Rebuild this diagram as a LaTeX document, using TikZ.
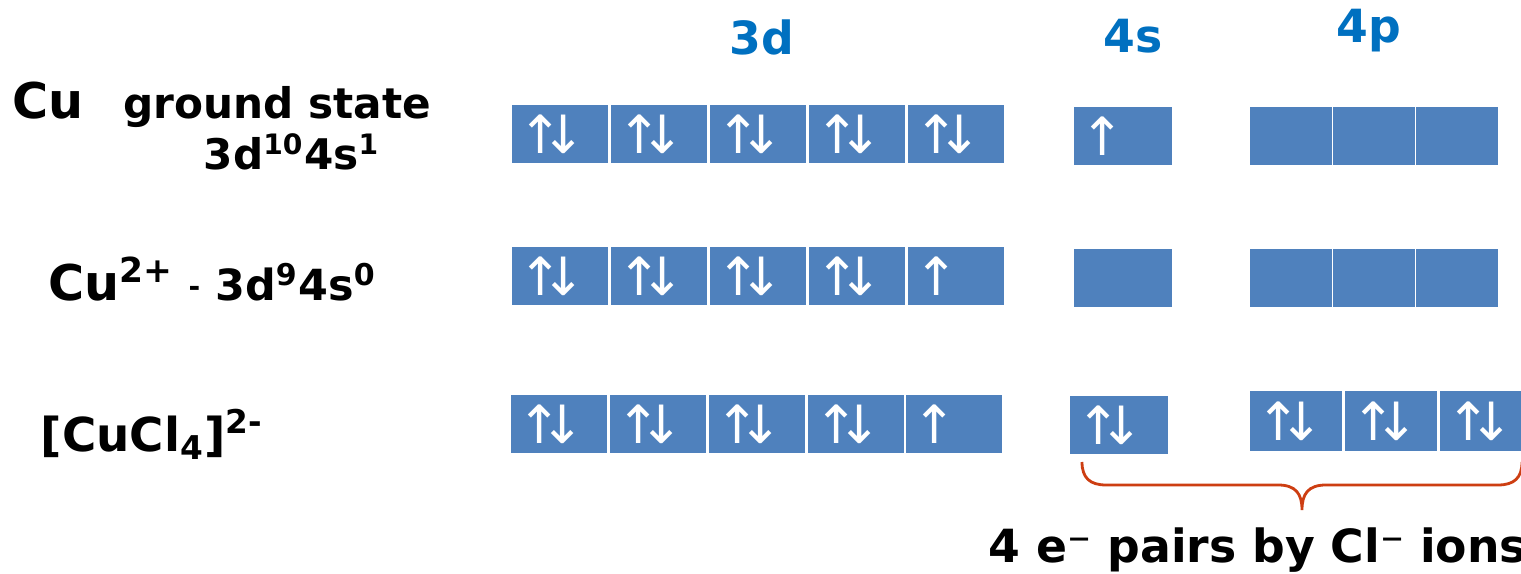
\documentclass[tikz,border=0pt]{standalone}
\usepackage{fontspec}
\setmainfont{DejaVu Sans}
\usepackage{xcolor}
\definecolor{orbblue}{RGB}{79,129,189}
\definecolor{headblue}{RGB}{0,112,192}
\definecolor{bracered}{RGB}{205,62,18}
\newcommand{\pairud}{↑\kern-0.42em↓}

\tikzset{
  orb/.style={fill=orbblue,draw=none,minimum width=0.96cm,minimum height=0.58cm,inner sep=0pt},
  spin/.style={text=white,font=\fontsize{15}{15}\selectfont,anchor=west,inner sep=0pt},
  head/.style={text=headblue,font=\bfseries\fontsize{13}{13}\selectfont,anchor=base,inner sep=0pt},
  lbl/.style={font=\bfseries\fontsize{14}{14}\selectfont,anchor=base west,inner sep=0pt}
}

\begin{document}
\begin{tikzpicture}[x=0.01cm,y=-0.01cm]
\useasboundingbox (0,0) rectangle (1521,574);
% headings
\node[head] (h3d) at (762,55) {3d};
\node[head] (h4s) at (1133,53) {4s};
\node[head] (h4p) at (1369,43) {4p};
% row labels
\node[lbl] (cu) at (12,119) {Cu};
\node[lbl,font=\bfseries\fontsize{12}{12}\selectfont] (gs) at (123,119) {ground state};
\node[lbl,font=\bfseries\fontsize{12}{12}\selectfont] (gcfg) at (203,170) {3d\textsuperscript{10}4s\textsuperscript{1}};
\node[lbl] (cuion) at (48,301) {Cu\textsuperscript{2+}\hspace{0.14cm}\raisebox{0.04cm}{\fontsize{8}{8}\selectfont -}\hspace{0.15cm}{\fontsize{12.2}{12}\selectfont 3d\textsuperscript{9}4s\textsuperscript{0}}};
\node[lbl,font=\bfseries\fontsize{13.3}{13}\selectfont] (cucl) at (40,452) {[CuCl\textsubscript{4}]\textsuperscript{2-}};
% ground state
\foreach \n/\x/\s in {1/560/\pairud,2/659/\pairud,3/758/\pairud,4/857/\pairud,5/956/\pairud}{
  \node[orb] (a\n) at (\x,134) {};
  \node[spin] at ([xshift=0.07cm]a\n.west) {\s};
}
\node[orb,minimum width=0.98cm] (as) at (1123,136) {};
\node[spin] at ([xshift=0.07cm]as.west) {↑};
\foreach \n/\x in {1/1291,2/1374,3/1457}
  \node[orb,minimum width=0.81cm] (ap\n) at (\x,136) {};
% Cu2+
\foreach \n/\x/\s in {1/560/\pairud,2/659/\pairud,3/758/\pairud,4/857/\pairud,5/956/↑}{
  \node[orb] (b\n) at (\x,276) {};
  \node[spin] at ([xshift=0.07cm]b\n.west) {\s};
}
\node[orb,minimum width=0.98cm] (bs) at (1123,278) {};
\foreach \n/\x in {1/1291,2/1374,3/1457}
  \node[orb,minimum width=0.81cm] (bp\n) at (\x,278) {};
% complex
\foreach \n/\x/\s in {1/559/\pairud,2/658/\pairud,3/757/\pairud,4/856/\pairud,5/954/↑}{
  \node[orb] (c\n) at (\x,424) {};
  \node[spin] at ([xshift=0.07cm]c\n.west) {\s};
}
\node[orb,minimum width=0.98cm] (cs) at (1119,425) {};
\node[spin] at ([xshift=0.07cm]cs.west) {\pairud};
\foreach \n/\x in {1/1296,2/1391,3/1486}{
  \node[orb,minimum width=0.92cm,minimum height=0.59cm] (cp\n) at (\x,421) {};
  \node[spin] at ([xshift=0.07cm]cp\n.west) {\pairud};
}
% brace
\coordinate (bl) at (1082,462);
\coordinate (bt) at (1302,510);
\coordinate (br) at (1522,462);
\draw[bracered,line width=0.8pt] (bl) .. controls (1082,478) and (1090,485) .. (1106,485) -- (1278,485)
  .. controls (1296,485) and (1302,494) .. (bt) .. controls (1302,494) and (1308,485) .. (1326,485)
  -- (1498,485) .. controls (1514,485) and (1522,478) .. (br);
\node[lbl,font=\bfseries\fontsize{13}{13}\selectfont] (pairs) at (988,563) {4 e⁻ pairs by Cl⁻ ions};
\end{tikzpicture}
\end{document}
